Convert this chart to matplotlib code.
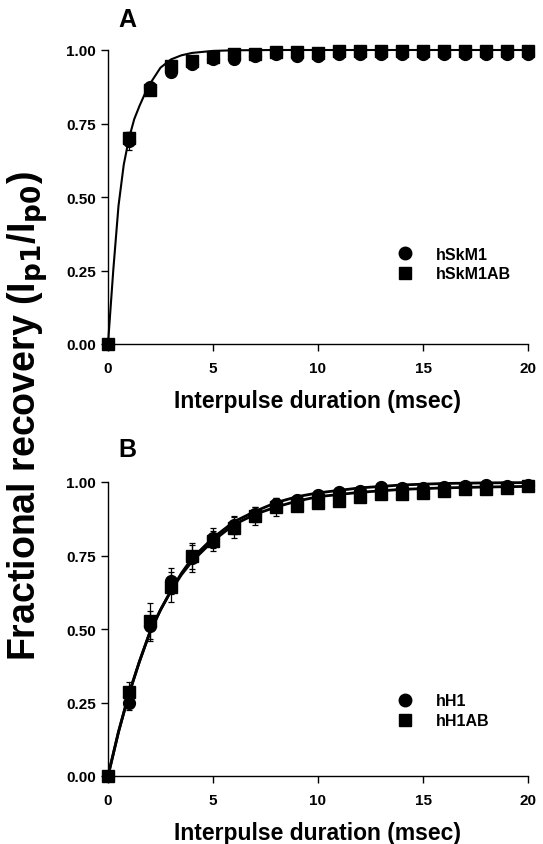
import matplotlib
matplotlib.use("Agg")
import matplotlib.pyplot as plt
from matplotlib.lines import Line2D

plt.rcParams.update({
    "font.family": ["Liberation Sans", "DejaVu Sans"],
    "font.weight": "bold",
    "axes.linewidth": 1.0,
})

# ---------------------------------------------------------------------------
# Data
# ---------------------------------------------------------------------------
t_ms = list(range(21))

# Panel A
skm1 = [0, 0.69, 0.875, 0.925, 0.952, 0.97, 0.968, 0.978, 0.985, 0.98, 0.98,
        0.988, 0.985, 0.988, 0.988, 0.988, 0.988, 0.988, 0.988, 0.988, 0.988]
skm1_err = [0, 0.03, 0.01, 0.01, 0.008, 0.006, 0.006, 0.005, 0.005, 0.005, 0.005,
            0.004, 0.004, 0.004, 0.004, 0.004, 0.004, 0.004, 0.004, 0.004, 0.004]
skm1ab = [0, 0.70, 0.865, 0.945, 0.963, 0.976, 0.985, 0.985, 0.993, 0.993, 0.99,
          0.998, 0.998, 0.998, 0.998, 0.998, 0.998, 0.998, 0.998, 0.998, 0.998]
skm1ab_err = [0, 0.02, 0.01, 0.008, 0.006, 0.005, 0.005, 0.004, 0.004, 0.004, 0.004,
              0.003, 0.003, 0.003, 0.003, 0.003, 0.003, 0.003, 0.003, 0.003, 0.003]

fitA_t = [0, 0.25, 0.5, 0.75, 1, 1.25, 1.5, 1.75, 2, 2.5, 3, 3.5, 4, 5, 6, 8, 20]
fitA_y = [0, 0.25, 0.47, 0.61, 0.70, 0.765, 0.81, 0.85, 0.885, 0.94, 0.968,
          0.982, 0.99, 0.997, 0.999, 1.0, 1.0]

# Panel B
h1 = [0, 0.25, 0.51, 0.663, 0.74, 0.81, 0.853, 0.89, 0.925, 0.94, 0.955,
      0.965, 0.97, 0.983, 0.98, 0.98, 0.983, 0.987, 0.99, 0.987, 0.99]
h1_err = [0, 0.025, 0.05, 0.045, 0.045, 0.035, 0.03, 0.025, 0.02, 0.015, 0.015,
          0.01, 0.01, 0.01, 0.008, 0.008, 0.008, 0.006, 0.006, 0.006, 0.006]
h1ab = [0, 0.285, 0.527, 0.643, 0.748, 0.80, 0.845, 0.884, 0.915, 0.92, 0.93,
        0.935, 0.95, 0.96, 0.96, 0.962, 0.97, 0.975, 0.975, 0.98, 0.985]
h1ab_err = [0, 0.035, 0.06, 0.05, 0.045, 0.035, 0.035, 0.03, 0.03, 0.02, 0.015,
            0.015, 0.012, 0.01, 0.01, 0.01, 0.008, 0.008, 0.008, 0.008, 0.008]

fitB_t = [0, 0.5, 1, 1.5, 2, 2.5, 3, 3.5, 4, 5, 6, 7, 8, 9, 10, 12, 14, 16, 18, 20]
fitB1_y = [0, 0.15, 0.28, 0.39, 0.49, 0.565, 0.63, 0.69, 0.74, 0.81, 0.865, 0.90,
           0.93, 0.95, 0.963, 0.98, 0.99, 0.995, 0.997, 0.998]
fitB2_y = [0, 0.15, 0.28, 0.39, 0.49, 0.565, 0.63, 0.685, 0.73, 0.80, 0.855, 0.89,
           0.915, 0.935, 0.95, 0.965, 0.975, 0.98, 0.983, 0.985]

x_ticks = [0, 5, 10, 15, 20]
y_ticks = [0.0, 0.25, 0.5, 0.75, 1.0]
y_ticklabels = ["0.00", "0.25", "0.50", "0.75", "1.00"]

W, H = 543, 845
fig = plt.figure(figsize=(W / 100, H / 100), dpi=100)


def px_axes(left, top, right, bottom):
    return fig.add_axes([left / W, 1 - bottom / H, (right - left) / W, (bottom - top) / H])


def style_axes(ax):
    ax.set_xlim(0, 20)
    ax.set_ylim(0, 1.0)
    ax.spines["top"].set_visible(False)
    ax.spines["right"].set_visible(False)
    ax.set_xticks(x_ticks)
    ax.set_yticks(y_ticks)
    ax.set_yticklabels(y_ticklabels)
    ax.tick_params(direction="out", length=5, width=1, labelsize=11)
    ax.tick_params(axis="x", pad=7)
    for lab in ax.get_xticklabels() + ax.get_yticklabels():
        lab.set_fontweight("bold")
    ax.set_xlabel("Interpulse duration (msec)", fontsize=16.5, fontweight="bold", labelpad=10)


def draw_panel(ax, s1, e1, s2, e2, names, fits, fit_lw, leg_y):
    for ft, fy in fits:
        ax.plot(ft, fy, color="black", lw=fit_lw, zorder=2, clip_on=False)
    ax.errorbar(t_ms, s2, yerr=e2, fmt="s", ms=8, color="black", ecolor="black",
                elinewidth=0.9, capsize=2.5, capthick=0.9, clip_on=False, zorder=3)
    ax.errorbar(t_ms, s1, yerr=e1, fmt="o", ms=8.5, color="black", ecolor="black",
                elinewidth=0.9, capsize=2.5, capthick=0.9, clip_on=False, zorder=4)
    handles = [
        Line2D([], [], ls="none", marker="o", ms=9, color="black"),
        Line2D([], [], ls="none", marker="s", ms=8, color="black"),
    ]
    ax.legend(handles, names, loc="upper left", bbox_to_anchor=(0.655, leg_y),
              frameon=False, handletextpad=1.4, labelspacing=0.3,
              handlelength=1.0, prop={"weight": "bold", "size": 11.5})


# Panel A
axA = px_axes(108, 51, 528, 345)
style_axes(axA)
draw_panel(axA, skm1, skm1_err, skm1ab, skm1ab_err, ["hSkM1", "hSkM1AB"],
           [(fitA_t, fitA_y)], 1.5, 0.38)
fig.text(127 / W, 1 - 20 / H, "A", fontsize=18, fontweight="bold", ha="center", va="center")

# Panel B
axB = px_axes(108, 483, 528, 777)
style_axes(axB)
draw_panel(axB, h1, h1_err, h1ab, h1ab_err, ["hH1", "hH1AB"],
           [(fitB_t, fitB1_y), (fitB_t, fitB2_y)], 2.0, 0.33)
fig.text(127 / W, 1 - 450 / H, "B", fontsize=18, fontweight="bold", ha="center", va="center")

fig.text(28 / W, 1 - 416 / H, r"Fractional recovery (I$_{\mathbf{p1}}$/I$_{\mathbf{p0}}$)",
         rotation=90, fontsize=27, fontweight="bold", ha="center", va="center")

fig.savefig("out.png", dpi=100)
